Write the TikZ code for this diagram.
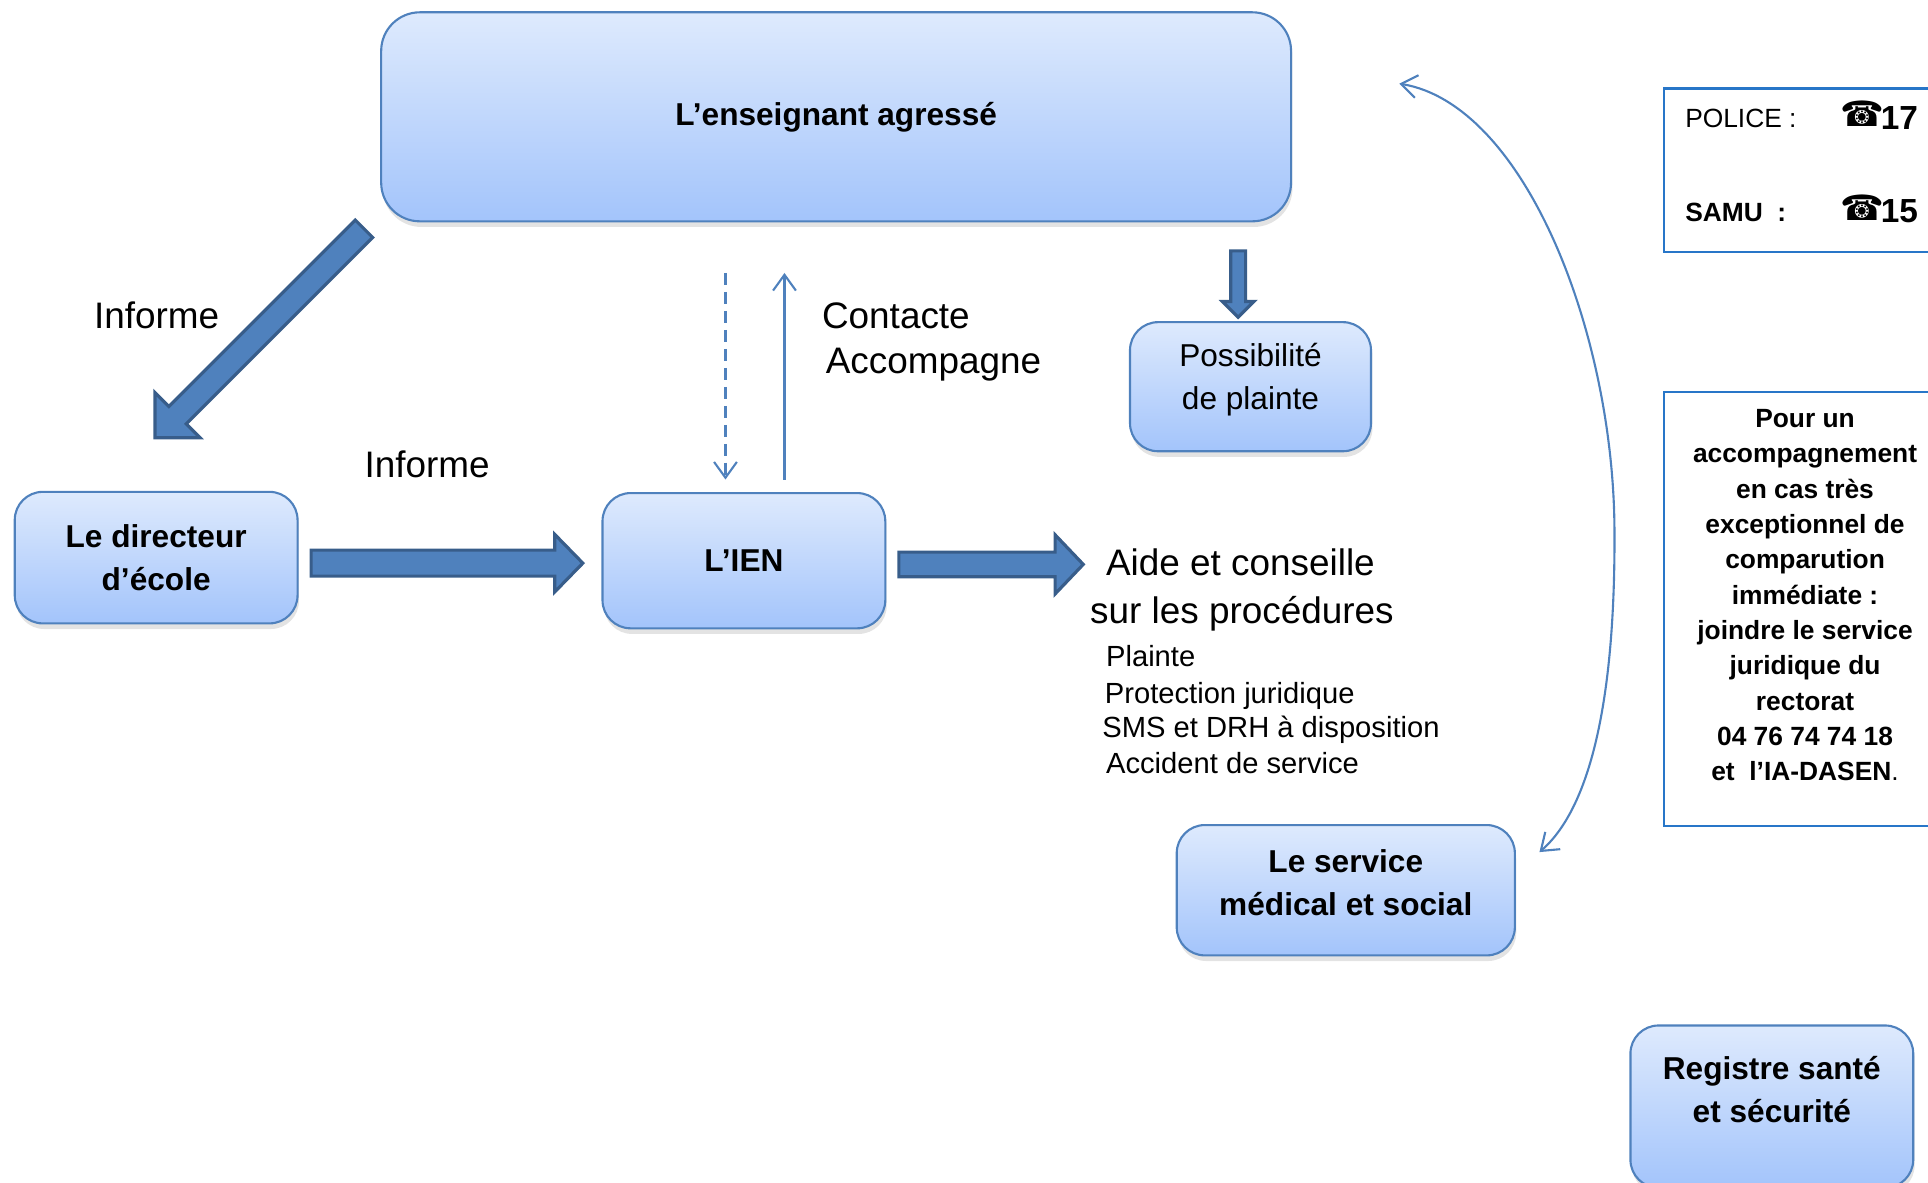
\documentclass[tikz,border=0pt]{standalone}
\usepackage{fontspec}
\setmainfont{Liberation Sans}
\newfontfamily\phonefont{DejaVu Sans}
\usetikzlibrary{calc,shadows,arrows.meta}

\definecolor{boxtop}{RGB}{222,234,253}
\definecolor{boxbot}{RGB}{163,196,251}
\definecolor{boxline}{RGB}{79,129,189}
\definecolor{arrowfill}{RGB}{79,129,189}
\definecolor{arrowline}{RGB}{56,93,138}
\definecolor{infoline}{RGB}{40,118,200}

\newcommand\unitpx{0.012296cm}
\newcommand\blockarrow[5]{%
  \coordinate (ba-h) at ($(#2)!#5!(#1)$);
  \draw[bigarrow] ($(#1)!#3!90:(#2)$) -- ($(ba-h)!#3!90:(#2)$) -- ($(ba-h)!#4!90:(#2)$) -- (#2)
    -- ($(ba-h)!#4!-90:(#2)$) -- ($(ba-h)!#3!-90:(#2)$) -- ($(#1)!#3!-90:(#2)$) -- cycle;}

\begin{document}
\begin{tikzpicture}[x=\unitpx, y=-\unitpx,
  box/.style={draw=boxline, line width=0.6pt, rounded corners=8pt, top color=boxtop, bottom color=boxbot,
    align=center, inner sep=2pt, font=\fontsize{9}{12.2}\selectfont\bfseries,
    drop shadow={shadow xshift=0.4pt, shadow yshift=-1.6pt, opacity=0.22}},
  bigarrow/.style={fill=arrowfill, draw=arrowline, line width=0.9pt, line join=miter},
  thinarrow/.style={draw=boxline, line width=0.6pt, -{Straight Barb[length=4.5pt,width=6.5pt]}},
  arrowtext/.style={anchor=base west, inner sep=0pt, font=\fontsize{10.5}{12}\selectfont},
  itemtext/.style={anchor=base west, inner sep=0pt, font=\fontsize{8.3}{10}\selectfont},
  infobox/.style={draw=infoline, line width=0.6pt},
  infotext/.style={anchor=base west, inner sep=0pt, font=\fontsize{7.5}{9}\selectfont}]
  \useasboundingbox (0,0) rectangle (1568,962);

  \node[box, rounded corners=11pt, minimum width=740*\unitpx, minimum height=170*\unitpx] (victim) at (680,95) {L’enseignant agressé};
  \node[box, minimum width=230*\unitpx, minimum height=107*\unitpx] (director) at (127,453.5) {Le directeur\\d’école};
  \node[box, minimum width=230*\unitpx, minimum height=110*\unitpx] (ien) at (605,456) {L’IEN};
  \node[box, font=\fontsize{9}{12.2}\selectfont, text depth=6.1pt, minimum width=196*\unitpx, minimum height=105*\unitpx] (complaint) at (1017,314.5) {Possibilité\\de plainte};
  \node[box, text depth=4.6pt, minimum width=275*\unitpx, minimum height=106*\unitpx] (medical) at (1094.5,724) {Le service\\médical et social};
  \node[box, text depth=9.8pt, minimum width=230*\unitpx, minimum height=132*\unitpx] (register) at (1441,900) {Registre santé\\et sécurité};

  \coordinate (inf1-s) at (296,186);
  \coordinate (inf1-e) at (126,356);
  \coordinate (inf2-s) at (253,458);
  \coordinate (inf2-e) at (474,458);
  \coordinate (help-s) at (731,459);
  \coordinate (help-e) at (881,459);
  \coordinate (cpl-s) at (1007,204);
  \coordinate (cpl-e) at (1007,258);
  \blockarrow{inf1-s}{inf1-e}{3.5pt}{9.1pt}{9.1pt}
  \blockarrow{inf2-s}{inf2-e}{3.7pt}{8.2pt}{8pt}
  \blockarrow{help-s}{help-e}{3.5pt}{8.4pt}{8pt}
  \blockarrow{cpl-s}{cpl-e}{2.1pt}{4.5pt}{4.5pt}

  \coordinate (down-s) at (590,222);
  \coordinate (down-e) at (590,390);
  \coordinate (up-s) at (638,390);
  \coordinate (up-e) at (638,222);
  \draw[thinarrow, dash pattern=on 3.4pt off 2pt] (down-s) -- (down-e);
  \draw[thinarrow] (up-s) -- (up-e);

  \coordinate (back-s) at (1138,68);
  \coordinate (back-e) at (1252,693);
  \draw[thinarrow, {Straight Barb[length=4.5pt,width=6.5pt]}-{Straight Barb[length=4.5pt,width=6.5pt]}]
    (back-s) .. controls (1240,85) and (1312,270) .. (1313,430) .. controls (1314,580) and (1290,660) .. (back-e);

  \node[arrowtext] (inform1) at (76,267) {Informe};
  \node[arrowtext] (inform2) at (296,388) {Informe};
  \node[arrowtext] (contact) at (668,267) {Contacte};
  \node[arrowtext] (support) at (671,304) {Accompagne};
  \node[arrowtext] (advice1) at (899,468) {Aide et conseille};
  \node[arrowtext] (advice2) at (886,507) {sur les procédures};
  \node[itemtext] (item1) at (899,542) {Plainte};
  \node[itemtext] (item2) at (898,572) {Protection juridique};
  \node[itemtext] (item3) at (896,600) {SMS et DRH à disposition};
  \node[itemtext] (item4) at (899,629) {Accident de service};

  \draw[infobox] (1353,72) rectangle (1620,205);
  \node[infotext] (police) at (1370,104) {POLICE :};
  \node[infotext, font=\fontsize{7.5}{9}\selectfont\bfseries] (samu) at (1370,180) {SAMU\ \ :};
  \node[infotext, font=\phonefont\fontsize{10}{12}\selectfont] (tel1) at (1496,103) {☎};
  \node[infotext, font=\phonefont\fontsize{10}{12}\selectfont] (tel2) at (1496,179) {☎};
  \node[infotext, font=\fontsize{9.5}{11}\selectfont\bfseries] (num1) at (1529,105) {17};
  \node[infotext, font=\fontsize{9.5}{11}\selectfont\bfseries] (num2) at (1529,181) {15};

  \draw[infobox] (1353,319) rectangle (1620,672);
  \node[align=center, inner sep=0pt, font=\fontsize{7.5}{10.05}\selectfont\bfseries] (legal) at (1468,484)
    {Pour un\\accompagnement\\en cas très\\exceptionnel de\\comparution\\immédiate :\\joindre le service\\juridique du\\rectorat\\04 76 74 74 18\\et\ \ l’IA-DASEN\textmd{.}};
\end{tikzpicture}
\end{document}
